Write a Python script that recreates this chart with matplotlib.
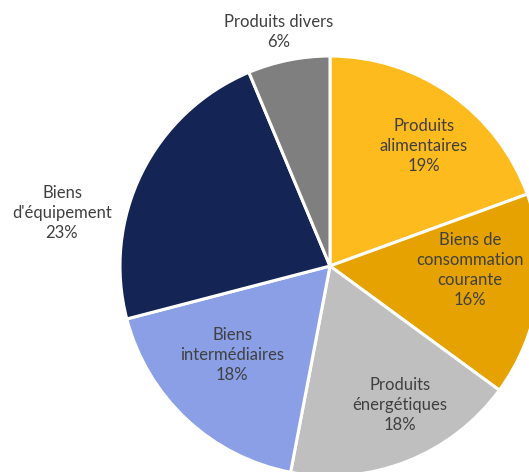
import matplotlib.pyplot as plt

# Parts (en %) par catégorie de produits, dans le sens des aiguilles d'une montre
labels = ["Produits\nalimentaires", "Biens de\nconsommation\ncourante",
          "Produits\nénergétiques", "Biens\nintermédiaires",
          "Biens\nd'équipement", "Produits divers"]
shares = [19.4, 15.6, 17.9, 17.9, 22.7, 6.3]
pct_labels = ["19%", "16%", "18%", "18%", "23%", "6%"]
colors = ["#FDBB1E", "#E5A200", "#BFBFBF", "#8A9FE6", "#142454", "#7F7F7F"]

# positions des étiquettes (pixels, origine en bas à gauche)
label_pos = [(424, 326), (470, 202), (400, 67), (232, 117), (62, 259), (279, 440)]

fig = plt.figure(figsize=(5.29, 4.72), dpi=100)
ax = fig.add_axes([0, 0, 1, 1])

ax.pie(shares, colors=colors, startangle=90, counterclock=False,
       center=(330, 206), radius=210, frame=True,
       wedgeprops=dict(edgecolor="white", linewidth=2.2))
ax.set_xlim(0, 529)
ax.set_ylim(0, 472)
ax.set_aspect("equal")
ax.axis("off")

for lab, pct, (x, y) in zip(labels, pct_labels, label_pos):
    ax.text(x, y, lab + "\n" + pct, ha="center", va="center",
            fontsize=12, color="#404040", family=["Lato", "DejaVu Sans"],
            linespacing=1.3)

fig.savefig("out.png", dpi=100)
